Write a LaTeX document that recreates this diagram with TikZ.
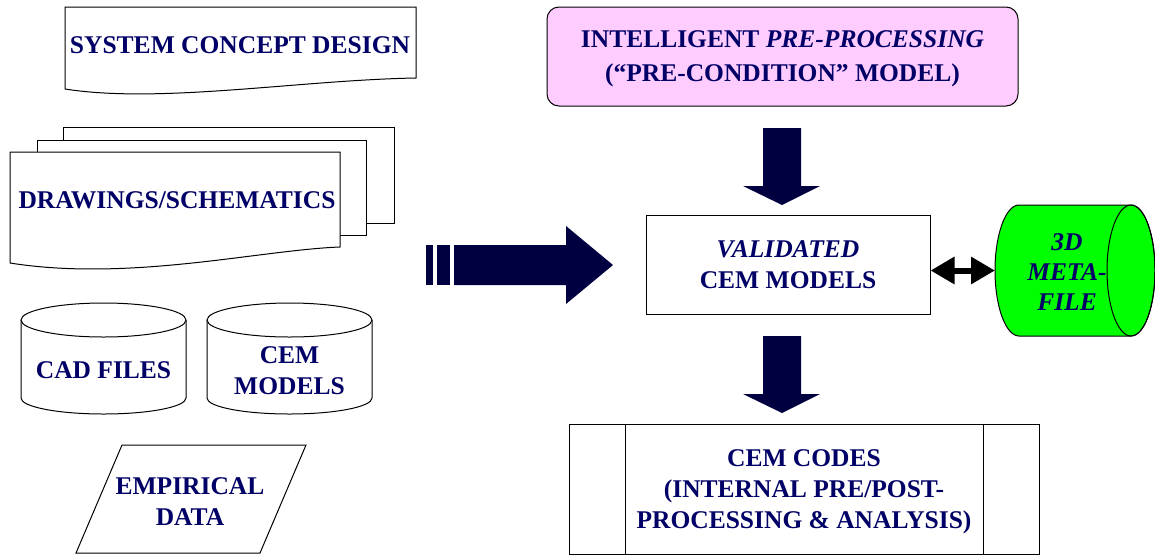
\documentclass[tikz,border=0pt]{standalone}
\usepackage{fontspec}
\setmainfont{Liberation Serif}
\usetikzlibrary{arrows.meta}
\definecolor{navytext}{RGB}{0,0,102}
\definecolor{navyfill}{RGB}{0,0,64}
\definecolor{pinkbox}{RGB}{255,204,255}
\definecolor{metagreen}{RGB}{0,255,0}
\tikzstyle{boxtext}=[text=navytext,font=\bfseries\fontsize{25.5}{31}\selectfont,align=center,inner sep=0pt,text depth=0pt,line width=1pt]
\tikzstyle{sheet}=[draw,fill=white,line width=1pt]
\tikzstyle{blockarrow}=[fill=navyfill]

\begin{document}
\begin{tikzpicture}[x=1pt,y=1pt]
\useasboundingbox (0,0) rectangle (1155,-555);
% left column: sources
\draw[sheet] (65,-7) -- (416,-7) -- (416,-78) .. controls (300,-80) and (160,-104) .. (65,-89) -- cycle;
\node[boxtext] at (240,-45.5) (sysdes) {SYSTEM CONCEPT DESIGN};
\draw[sheet] (63,-127) rectangle (394,-223);
\draw[sheet] (37,-140) rectangle (366,-235);
\draw[sheet] (10,-152) -- (340,-152) -- (340,-247) .. controls (260,-250) and (130,-282) .. (10,-263) -- cycle;
\node[boxtext] at (177,-200) (drawings) {DRAWINGS/SCHEMATICS};
\draw[sheet] (21,-320) -- (21,-398) arc[start angle=180,end angle=360,x radius=82.5,y radius=16] -- (186,-320);
\draw[sheet] (103.5,-320) ellipse[x radius=82.5,y radius=17];
\node[boxtext] at (103.5,-370.5) (cadfiles) {CAD FILES};
\draw[sheet] (207,-320) -- (207,-398) arc[start angle=180,end angle=360,x radius=82.5,y radius=16] -- (372,-320);
\draw[sheet] (289.5,-320) ellipse[x radius=82.5,y radius=17];
\node[boxtext] at (289.5,-371) (cemmodels) {CEM\\MODELS};
\draw[sheet] (122,-445) -- (306,-445) -- (260,-553) -- (76,-553) -- cycle;
\node[boxtext] at (190,-501.5) (empdata) {EMPIRICAL\\DATA};
% big arrow into the model box
\fill[blockarrow] (426,-245) rectangle (433,-285);
\fill[blockarrow] (437,-245) rectangle (450,-285);
\fill[blockarrow] (454,-245) -- (566,-245) -- (566,-226) -- (613,-265) -- (566,-304) -- (566,-285) -- (454,-285) -- cycle;
% right column
\node[boxtext,draw=black,fill=pinkbox,rounded corners=12pt,minimum width=471pt,minimum height=99pt,font=\bfseries\fontsize{25.5}{34}\selectfont] at (782.5,-56.5) (precond) {INTELLIGENT \textit{PRE-PROCESSING}\\(“PRE-CONDITION” MODEL)};
\node[boxtext,draw=black,minimum width=284pt,minimum height=99pt] at (788,-264.5) (valid) {\textit{VALIDATED}\\CEM MODELS};
\node[boxtext,draw=black,minimum width=470pt,minimum height=130pt] at (804,-489) (codes) {CEM CODES\\(INTERNAL PRE/POST-\\PROCESSING \& ANALYSIS)};
\draw[line width=1pt] ([xshift=57pt]codes.north west) -- ([xshift=57pt]codes.south west);
\draw[line width=1pt] ([xshift=-56pt]codes.north east) -- ([xshift=-56pt]codes.south east);
% 3D meta-file drum
\draw[line width=1pt,fill=metagreen] (1019,-205) -- (1131,-205) arc[start angle=90,end angle=-90,x radius=24,y radius=65.5] -- (1019,-336) arc[start angle=270,end angle=90,x radius=24,y radius=65.5] -- cycle;
\draw[line width=1pt] (1131,-270.5) ellipse[x radius=24,y radius=65.5];
\node[boxtext,font=\bfseries\fontsize{25.5}{30}\selectfont] at (1067,-272) (meta) {\textit{3D}\\\textit{META-}\\\textit{FILE}};
\coordinate (metaleft) at (995,-270.5);
\fill[blockarrow] (763,-128) -- (801,-128) -- (801,-186) -- (820,-186) -- (782,-205) -- (743,-186) -- (763,-186) -- cycle;
\fill[blockarrow] (763,-336) -- (801,-336) -- (801,-394) -- (820,-394) -- (782,-413) -- (743,-394) -- (763,-394) -- cycle;
\draw[{Triangle[length=24pt,width=26pt]}-{Triangle[length=24pt,width=26pt]},line width=6pt] (valid.east |- metaleft) -- (metaleft);
\end{tikzpicture}
\end{document}
